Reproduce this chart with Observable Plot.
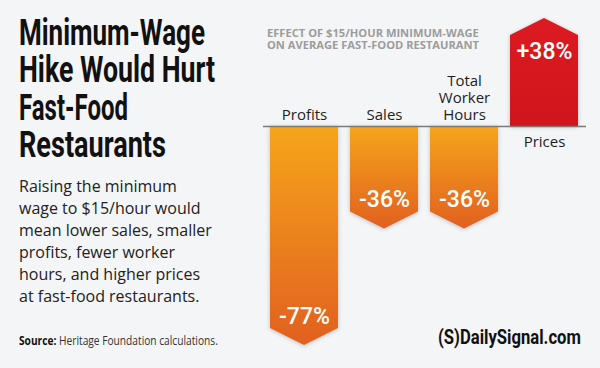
<!DOCTYPE html>
<html>
<head>
<meta charset="utf-8">
<script src="https://cdn.jsdelivr.net/npm/d3@7"></script>
<script src="https://cdn.jsdelivr.net/npm/@observablehq/plot@0.6"></script>
<style>
  html, body { margin: 0; padding: 0; background: #f4f5f7; }
  #wrap { position: relative; width: 600px; height: 368px; overflow: hidden; background: #f4f5f7; }
  #wrap > svg { position: absolute; left: 0; top: 0; }
</style>
</head>
<body>
<div id="wrap"></div>
<script>
// ---- data ----
const categories = ["Profits", "Sales", "Total Worker Hours", "Prices"];
const categoryLabels = ["Profits", "Sales", "Total\nWorker\nHours", "Prices"];
const values = [-77, -36, -36, 38];
const valueLabels = ["-77%", "-36%", "-36%", "+38%"];

const titleLines = ["Minimum-Wage", "Hike Would Hurt", "Fast-Food", "Restaurants"];
const descLines = [
  "Raising the minimum",
  "wage to $15/hour would",
  "mean lower sales, smaller",
  "profits, fewer worker",
  "hours, and higher prices",
  "at fast-food restaurants."
];
const headerLines = ["EFFECT OF $15/HOUR MINIMUM-WAGE", "ON AVERAGE FAST-FOOD RESTAURANT"];
const sourceLabel = "Source:";
const sourceText = " Heritage Foundation calculations.";
const logoText = "(S)DailySignal.com";

const rows = categories.map((c, i) => ({cat: c, label: categoryLabels[i], value: values[i], text: valueLabels[i]}));

// ---- chevron bars drawn through Plot's scales ----
const TIP = 17;
function chevrons(index, sc) {
  const x = sc.x, y = sc.y;
  const bw = x.bandwidth ? x.bandwidth() : 69;
  const g = d3.create("svg:g");
  const defs = g.append("defs");
  const gn = defs.append("linearGradient").attr("id", "gNeg").attr("x1", 0).attr("y1", 0).attr("x2", 0).attr("y2", 1);
  gn.append("stop").attr("offset", "0%").attr("stop-color", "#f6a51c");
  gn.append("stop").attr("offset", "100%").attr("stop-color", "#e1601f");
  const gp = defs.append("linearGradient").attr("id", "gPos").attr("x1", 0).attr("y1", 0).attr("x2", 0).attr("y2", 1);
  gp.append("stop").attr("offset", "0%").attr("stop-color", "#dc1a21");
  gp.append("stop").attr("offset", "100%").attr("stop-color", "#d0151c");
  const y0 = y(0);
  rows.forEach(d => {
    const x0 = x(d.cat), x1 = x0 + bw, xm = x0 + bw / 2, yv = y(d.value);
    const yr = d.value < 0 ? yv - TIP : yv + TIP;
    g.append("path")
      .attr("d", `M${x0},${y0}L${x1},${y0}L${x1},${yr}L${xm},${yv}L${x0},${yr}Z`)
      .attr("fill", d.value < 0 ? "url(#gNeg)" : "url(#gPos)")
      .style("filter", "drop-shadow(0px 1px 2px rgba(0,0,0,0.22))");
  });
  return g.node();
}

const chart = Plot.plot({
  width: 600,
  height: 368,
  marginLeft: 263,
  marginRight: 14,
  marginTop: 18,
  marginBottom: 23,
  style: {background: "transparent", fontFamily: "'Open Sans', sans-serif", overflow: "visible"},
  x: {type: "band", domain: categories, paddingInner: 0.145, paddingOuter: 0.0725, axis: null},
  y: {domain: d3.extent(values), axis: null},
  marks: [
    chevrons,
    Plot.ruleY([0], {stroke: "#7a7a7a", strokeWidth: 1.5}),
    Plot.text(rows, {filter: d => d.value < 0, x: "cat", y: 0, text: "label", dy: -7, lineAnchor: "bottom", lineHeight: 1.13, fontSize: 15, fill: "#1e1e1e"}),
    Plot.text(rows, {filter: d => d.value >= 0, x: "cat", y: 0, text: "label", dy: 20, lineAnchor: "bottom", fontSize: 15, fill: "#1e1e1e"}),
    Plot.text(rows, {filter: d => d.value < 0, x: "cat", y: "value", text: "text", dy: -22, lineAnchor: "bottom", fontSize: 23, fontFamily: "Roboto", fontWeight: 500, fill: "white"}),
    Plot.text(rows, {filter: d => d.value >= 0, x: "cat", y: "value", text: "text", dy: 40, lineAnchor: "bottom", fontSize: 23, fontFamily: "Roboto", fontWeight: 500, fill: "white"})
  ]
});
document.getElementById("wrap").appendChild(chart);

// ---- surrounding text (title, description, header, source, logo) ----
const ov = d3.select("#wrap").append("svg").attr("width", 600).attr("height", 368).style("pointer-events", "none");

// squeeze a text horizontally to a target width with a transform (keeps its box honest)
function fitText(sel, x, y, w) {
  const n = sel.node().getComputedTextLength();
  const k = n > 0 ? w / n : 1;
  sel.attr("x", 0).attr("y", 0).attr("transform", `translate(${x},${y}) scale(${k},1)`);
  return sel;
}

const titleBase = [45, 82, 120, 157];
const titleW = [186, 196, 109, 147];
titleLines.forEach((t, i) => {
  const s = ov.append("text")
    .attr("font-family", "Roboto, sans-serif").attr("font-weight", 700).attr("font-size", 37.5)
    .attr("fill", "#111").text(t);
  fitText(s, 19, titleBase[i], titleW[i]);
});

descLines.forEach((t, i) => {
  ov.append("text").attr("x", 19).attr("y", 192 + i * 22)
    .attr("font-family", "'Open Sans', sans-serif").attr("font-size", 16).attr("fill", "#222").text(t);
});

const src = ov.append("text")
  .attr("font-family", "'Open Sans', sans-serif").attr("font-size", 12).attr("fill", "#333");
src.append("tspan").attr("font-weight", 700).attr("fill", "#111").text(sourceLabel);
src.append("tspan").text(sourceText);
fitText(src, 19, 345, 199);

headerLines.forEach((t, i) => {
  const s = ov.append("text")
    .attr("font-family", "'Open Sans', sans-serif").attr("font-weight", 700).attr("font-size", 10.8)
    .attr("fill", "#9c9c9c").text(t);
  fitText(s, 267, 36.7 + i * 12.6, 212);
});

const logo = ov.append("text")
  .attr("font-family", "Roboto, sans-serif").attr("font-weight", 700).attr("font-size", 20)
  .attr("fill", "#111").text(logoText);
fitText(logo, 438, 344, 143);
</script>
</body>
</html>
